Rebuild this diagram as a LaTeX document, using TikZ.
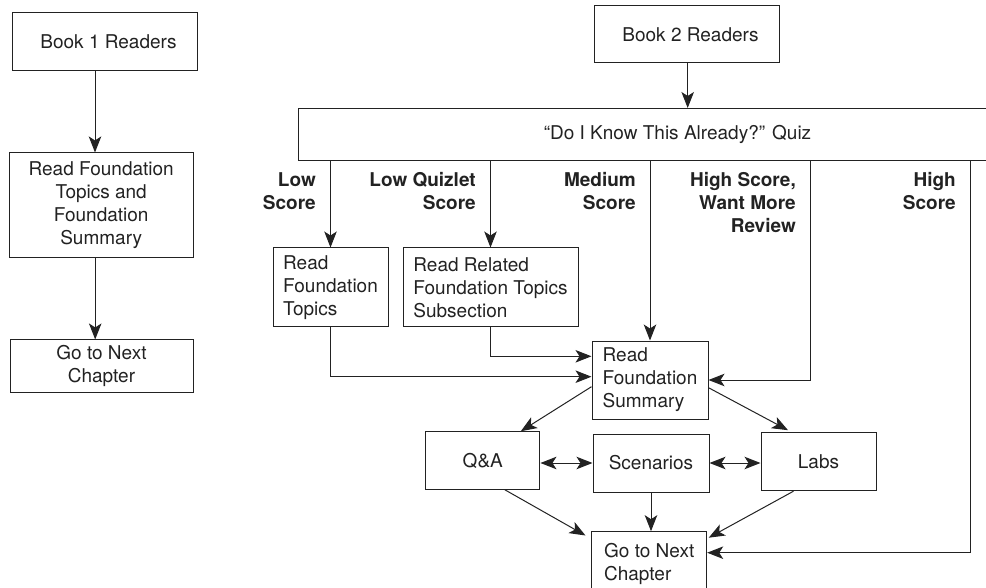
\documentclass[tikz,border=0pt]{standalone}
\usepackage{fontspec}
\setmainfont{TeX Gyre Heros}
\usetikzlibrary{arrows.meta}
\definecolor{ink}{HTML}{222222}
\begin{document}
\begin{tikzpicture}[x=1pt,y=-1pt,
  every node/.style={font=\fontsize{19}{23}\selectfont, text=ink},
  box/.style={draw=ink, line width=1pt, inner sep=0pt, align=center},
  lbox/.style={box, align=left},
  lbl/.style={inner sep=0pt, align=right, anchor=north east,
              font=\fontsize{19}{23}\selectfont\bfseries},
  flow/.style={draw=ink, line width=1pt,
               -{Stealth[length=16pt,width=12.5pt,inset=4pt]}},
  both/.style={draw=ink, line width=1pt,
               {Stealth[length=16pt,width=12.5pt,inset=4pt]}-{Stealth[length=16pt,width=12.5pt,inset=4pt]}},
]
\useasboundingbox (0,0) rectangle (986,588);
\clip (0,0) rectangle (986,588);

% Book 1 path
\node[box, minimum width=185pt, minimum height=58pt] (b1) at (104.5,41.7) {\hspace*{8pt}Book 1 Readers};
\node[box, minimum width=183.7pt, minimum height=104.7pt] (rf1) at (101.2,205.3)
  {Read Foundation\\Topics and\\Foundation\\Summary};
\node[box, minimum width=183pt, minimum height=52.7pt] (go1) at (101.5,366.3) {Go to Next\\Chapter};

% Book 2 path
\node[box, minimum width=185pt, minimum height=57pt] (b2) at (686.5,34.5) {\hspace*{8pt}Book 2 Readers};
\node[box, minimum width=759pt, minimum height=52.5pt] (quiz) at (677.5,134.75)
  {“Do I Know This Already?” Quiz};
\node[lbox, minimum width=115pt, minimum height=79pt] (rft) at (330.5,287.5)
  {Read\\Foundation\\Topics};
\node[lbox, minimum width=175pt, minimum height=79pt] (rrf) at (490.5,287.5)
  {Read Related\\Foundation Topics\\Subsection};
\node[lbox, minimum width=116pt, minimum height=78pt] (sum) at (650,380)
  {Read\\Foundation\\Summary};
\node[box, minimum width=114.3pt, minimum height=57.5pt] (qa) at (482.8,460.5) {Q\&A};
\node[box, minimum width=116pt, minimum height=58pt] (scen) at (651,463) {Scenarios};
\node[box, minimum width=115pt, minimum height=58pt] (labs) at (818.5,461.7) {Labs};
\node[lbox, minimum width=115pt, minimum height=64pt] (go2) at (649.2,563.7)
  {Go to Next\\Chapter};

% score labels
\node[lbl] (lLow) at (316,172) {Low\\Score};
\node[lbl] (lQuiz) at (476,172) {Low Quizlet\\Score};
\node[lbl] (lMed) at (636,172) {Medium\\Score};
\node[lbl] (lHW) at (796,172) {High Score,\\Want More\\Review};
\node[lbl] (lHigh) at (956,172) {High\\Score};

\coordinate (hwx) at (810,0);
\coordinate (hx) at (970,0);

% connectors
\draw[flow] ([xshift=-9.5pt]b1.south) -- ([xshift=-9.5pt]b1.south |- rf1.north);
\draw[flow] ([xshift=-6pt]rf1.south) -- ([xshift=-6pt]rf1.south |- go1.north);
\draw[flow] ([xshift=1.2pt]b2.south) -- ([xshift=1.2pt]b2.south |- quiz.north);
\draw[flow] (rft.north |- quiz.south) -- (rft.north);
\draw[flow] (rrf.north |- quiz.south) -- (rrf.north);
\draw[flow] (sum.north |- quiz.south) -- (sum.north);
\draw[flow] (hwx |- quiz.south) |- (sum.east);
\draw[flow] (hx |- quiz.south) |- ([yshift=11pt]go2.east);
\draw[flow] (rft.south) |- ([yshift=3.3pt]sum.west);
\draw[flow] (rrf.south) |- ([yshift=23.7pt]sum.west);
\draw[flow] ([yshift=-6.7pt]sum.west) -- ([xshift=38pt]qa.north);
\draw[flow] ([yshift=-7.7pt]sum.east) -- ([xshift=-30.5pt,yshift=2pt]labs.north);
\draw[both] (scen.west -| qa.east) -- (scen.west);
\draw[both] (scen.east) -- (scen.east -| labs.west);
\draw[flow] ([xshift=22pt]qa.south) -- ([xshift=-5.7pt,yshift=-4.3pt]go2.north west);
\draw[flow] (scen.south) -- (scen.south |- go2.north);
\draw[flow] ([xshift=-25pt]labs.south) -- ([xshift=1.5pt,yshift=-6.5pt]go2.north east);
\end{tikzpicture}
\end{document}
